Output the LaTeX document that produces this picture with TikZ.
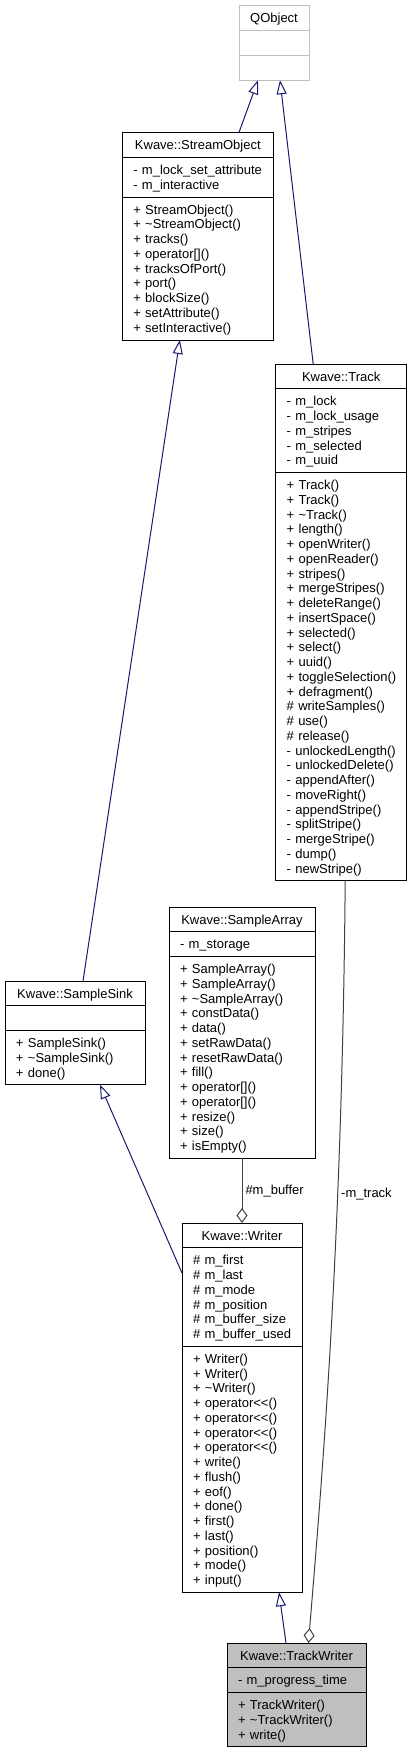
\documentclass[tikz,border=0pt]{standalone}
\usepackage{fontspec}
\setmainfont{Liberation Sans}
\usetikzlibrary{positioning, arrows.meta}

\definecolor{edgeblue}{HTML}{191970}
\definecolor{edgegray}{HTML}{404040}
\definecolor{extgray}{HTML}{BFBFBF}
\newcommand\umlfont{\fontsize{13}{14.75}\selectfont}
\newcommand\umlstrut{\rule[-2.75pt]{0pt}{14.75pt}}
\hyphenpenalty=10000
\exhyphenpenalty=10000

\tikzset{
  classpart/.style={draw, outer sep=0pt, inner xsep=11pt, inner ysep=5pt, align=left, font=\umlfont,
    execute at begin node=\umlstrut, execute at end node=\umlstrut},
  classname/.style={classpart, align=center},
  inheritarrow/.style={edgeblue, -{Triangle[open, length=14pt, width=10pt]}},
  aggrarrow/.style={edgegray, -{Diamond[open, length=15pt, width=11pt]}},
  rolelabel/.style={font=\umlfont, inner sep=3pt, text=black},
}

\begin{document}
\begin{tikzpicture}[x=1pt, y=-1pt, line width=1pt]
            \useasboundingbox (0,0) rectangle (413,1755);

            % QObject
            \node [classname, draw=extgray, text width=48pt, anchor=north west] (qobject) at (239,6) {QObject};
            \node [classpart, draw=extgray, text width=48pt, below=0pt of qobject] (qobjectattr) {};
            \node [classpart, draw=extgray, text width=48pt, below=0pt of qobjectattr] (qobjectops) {};

            % Kwave::StreamObject
            \node [classname, text width=129pt, anchor=north west] (stream) at (122.3,133) {Kwave::StreamObject};
            \node [classpart, text width=129pt, below=0pt of stream] (streamattr) {-~m\_lock\_set\_attribute\\-~m\_interactive};
            \node [classpart, text width=129pt, below=0pt of streamattr] (streamops) {+~StreamObject()\\+~\textasciitilde StreamObject()\\+~tracks()\\+~operator[]()\\+~tracksOfPort()\\+~port()\\+~blockSize()\\+~setAttribute()\\+~setInteractive()};

            % Kwave::Track
            \node [classname, text width=109pt, anchor=north west] (track) at (275.7,364) {Kwave::Track};
            \node [classpart, text width=109pt, below=0pt of track] (trackattr) {-~m\_lock\\-~m\_lock\_usage\\-~m\_stripes\\-~m\_selected\\-~m\_uuid};
            \node [classpart, text width=109pt, below=0pt of trackattr] (trackops) {+~Track()\\+~Track()\\+~\textasciitilde Track()\\+~length()\\+~openWriter()\\+~openReader()\\+~stripes()\\+~mergeStripes()\\+~deleteRange()\\+~insertSpace()\\+~selected()\\+~select()\\+~uuid()\\+~toggleSelection()\\+~defragment()\\\#~writeSamples()\\\#~use()\\\#~release()\\-~unlockedLength()\\-~unlockedDelete()\\-~appendAfter()\\-~moveRight()\\-~appendStripe()\\-~splitStripe()\\-~mergeStripe()\\-~dump()\\-~newStripe()};

            % Kwave::SampleArray
            \node [classname, text width=124pt, anchor=north west] (samplearray) at (169,907) {Kwave::SampleArray};
            \node [classpart, text width=124pt, below=0pt of samplearray] (samplearrayattr) {-~m\_storage};
            \node [classpart, text width=124pt, below=0pt of samplearrayattr] (samplearrayops) {+~SampleArray()\\+~SampleArray()\\+~\textasciitilde SampleArray()\\+~constData()\\+~data()\\+~setRawData()\\+~resetRawData()\\+~fill()\\+~operator[]()\\+~operator[]()\\+~resize()\\+~size()\\+~isEmpty()};

            % Kwave::SampleSink
            \node [classname, text width=118pt, anchor=north west] (samplesink) at (5,981) {Kwave::SampleSink};
            \node [classpart, text width=118pt, below=0pt of samplesink] (samplesinkattr) {};
            \node [classpart, text width=118pt, below=0pt of samplesinkattr] (samplesinkops) {+~SampleSink()\\+~\textasciitilde SampleSink()\\+~done()};

            % Kwave::Writer
            \node [classname, text width=98pt, anchor=north west] (writer) at (182,1223) {Kwave::Writer};
            \node [classpart, text width=98pt, below=0pt of writer] (writerattr) {\#~m\_first\\\#~m\_last\\\#~m\_mode\\\#~m\_position\\\#~m\_buffer\_size\\\#~m\_buffer\_used};
            \node [classpart, text width=98pt, below=0pt of writerattr] (writerops) {+~Writer()\\+~Writer()\\+~\textasciitilde Writer()\\+~operator<{}<()\\+~operator<{}<()\\+~operator<{}<()\\+~operator<{}<()\\+~write()\\+~flush()\\+~eof()\\+~done()\\+~first()\\+~last()\\+~position()\\+~mode()\\+~input()};

            % Kwave::TrackWriter
            \node [classname, fill=extgray, text width=117pt, anchor=north west] (trackwriter) at (227,1643) {Kwave::TrackWriter};
            \node [classpart, fill=extgray, text width=117pt, below=0pt of trackwriter] (trackwriterattr) {-~m\_progress\_time};
            \node [classpart, fill=extgray, text width=117pt, below=0pt of trackwriterattr] (trackwriterops) {+~TrackWriter()\\+~\textasciitilde TrackWriter()\\+~write()};

            % inheritance
            \draw [inheritarrow] ([xshift=41pt]stream.north) -- ([xshift=-16pt]qobjectops.south);
            \draw [inheritarrow] ([xshift=-28pt]track.north) -- ([xshift=6pt]qobjectops.south);
            \draw [inheritarrow] ([xshift=8pt]samplesink.north) -- ([xshift=-18pt]streamops.south);
            \draw [inheritarrow] ([yshift=24pt]writerattr.west) -- ([xshift=25pt]samplesinkops.south);
            \draw [inheritarrow] ([xshift=-10.5pt]trackwriter.north) -- ([xshift=37pt]writerops.south);

            % members
            \draw [aggrarrow] (samplearrayops.south) -- node [rolelabel, right] {\#m\_buffer} (writer.north);
            \draw [aggrarrow] ([xshift=4pt]trackops.south) .. controls (342,1260) and (320,1500) .. ([xshift=12pt]trackwriter.north) node [rolelabel, pos=0.31, right] {-m\_track};
        \end{tikzpicture}
\end{document}
